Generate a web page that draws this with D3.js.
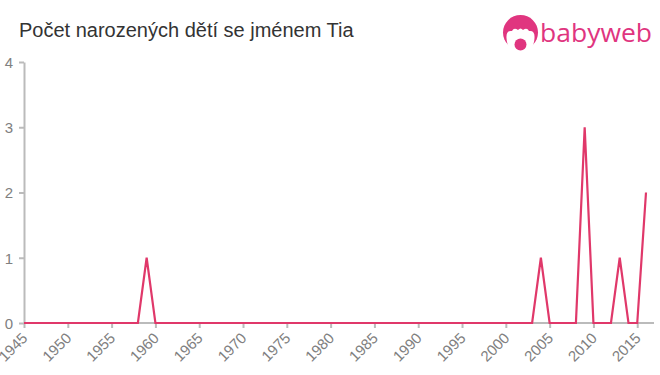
<!DOCTYPE html>
<html><head><meta charset="utf-8">
<script src="https://cdn.jsdelivr.net/npm/d3@7"></script>
<style>body{margin:0;background:#fff;}svg{display:block;} text{font-family:"Liberation Sans",Arial,sans-serif;}</style>
</head><body>
<svg id="c" width="660" height="375"></svg>
<script>
const title = "Počet narozených dětí se jménem Tia";
const years = d3.range(1945, 2017);
const counts = [
 0,0,0,0,0, 0,0,0,0,0, 0,0,0,0,1, 0,0,0,0,0,
 0,0,0,0,0, 0,0,0,0,0, 0,0,0,0,0, 0,0,0,0,0,
 0,0,0,0,0, 0,0,0,0,0, 0,0,0,0,0, 0,0,0,0,1,
 0,0,0,0,3, 0,0,0,1,0, 0,2
];
const xTicks = d3.range(1945, 2016, 5);
const yTicks = [0,1,2,3,4];

const svg = d3.select("#c");
const x = d3.scaleLinear().domain([1945, 2016]).range([24, 646]);
const y = d3.scaleLinear().domain([0, 4]).range([323, 62]);

svg.append("text").attr("x", 19).attr("y", 37).style("font-size", "20px")
  .attr("fill", "#333").text(title);

// logo
const pink = "#e0357f";
const lg = svg.append("g");
lg.append("circle").attr("cx", 520.5).attr("cy", 32.5).attr("r", 17.5).attr("fill", pink);
lg.append("path").attr("d", "M506.5,38 Q506,30 512,31 Q514,27 518,30 Q520.5,27 523,30 Q527,27 529,31 Q535,30 534.5,38 Q534,52 520.5,52 Q507,52 506.5,38 Z").attr("fill", "#fff");
lg.append("circle").attr("cx", 520.5).attr("cy", 44.5).attr("r", 6).attr("fill", pink);
lg.append("text").attr("x", 540).attr("y", 42).style("font-size", "25px").attr("fill", pink)
  .style("font-family", "'Open Sans',Arial,sans-serif").style("font-weight", 500)
  .attr("textLength", 112).attr("lengthAdjust", "spacingAndGlyphs").text("babyweb");

// axes
const gx = svg.append("g").attr("transform", "translate(0,323)")
  .call(d3.axisBottom(x).tickValues(xTicks).tickFormat(d3.format("d")).tickSize(5).tickSizeOuter(0));
gx.select(".domain").attr("stroke", "#bbb").attr("stroke-width", 2).attr("d", "M24,0H654");
gx.selectAll(".tick line").attr("stroke", "#bbb").attr("stroke-width", 2);
gx.selectAll(".tick text").attr("fill", "#808080").style("font-size", "15px")
  .attr("text-anchor", "end").attr("dx", 0).attr("dy", 0).attr("y", 0)
  .attr("transform", "translate(4,16) rotate(-45)");

const gy = svg.append("g").attr("transform", "translate(24,0)")
  .call(d3.axisLeft(y).tickValues(yTicks).tickFormat(d3.format("d")).tickSize(5).tickSizeOuter(0));
gy.select(".domain").attr("stroke", "#bbb").attr("stroke-width", 2);
gy.selectAll(".tick line").attr("stroke", "#bbb").attr("stroke-width", 2);
gy.selectAll(".tick text").attr("fill", "#808080").style("font-size", "15px").attr("x", -11).attr("dy", "0.36em");
svg.selectAll("g").attr("font-family", null).attr("font-size", null);

const line = d3.line().x((d,i) => x(years[i])).y(d => y(d));
svg.append("path").datum(counts).attr("d", line).attr("fill", "none")
  .attr("stroke", "#e0386a").attr("stroke-width", 2.2).attr("stroke-linejoin", "miter");
</script>
</body></html>
